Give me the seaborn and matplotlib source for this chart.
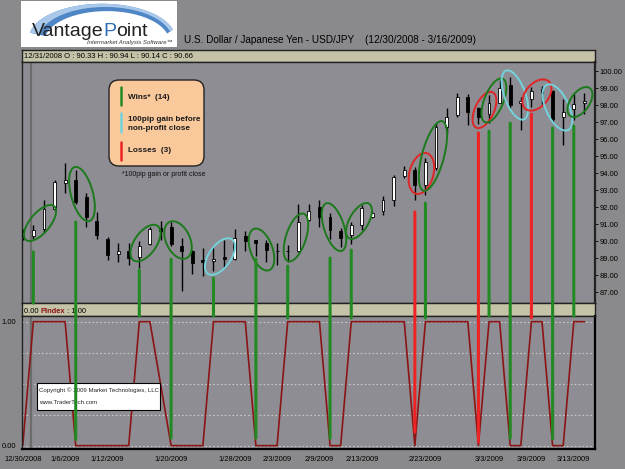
import numpy as np
import matplotlib
matplotlib.use("Agg")
import matplotlib.pyplot as plt
import matplotlib.transforms as mtransforms
from matplotlib.patches import Ellipse, FancyBboxPatch, Rectangle, ConnectionPatch, Polygon
import seaborn as sns

# ---------------- data ----------------
dates = ["12/30/2008", "12/31/2008", "1/2/2009", "1/5/2009", "1/6/2009", "1/7/2009", "1/8/2009",
         "1/9/2009", "1/12/2009", "1/13/2009", "1/14/2009", "1/15/2009", "1/16/2009", "1/19/2009",
         "1/20/2009", "1/21/2009", "1/22/2009", "1/23/2009", "1/26/2009", "1/27/2009", "1/28/2009",
         "1/29/2009", "1/30/2009", "2/2/2009", "2/3/2009", "2/4/2009", "2/5/2009", "2/6/2009",
         "2/9/2009", "2/10/2009", "2/11/2009", "2/12/2009", "2/13/2009", "2/16/2009", "2/17/2009",
         "2/18/2009", "2/19/2009", "2/20/2009", "2/23/2009", "2/24/2009", "2/25/2009", "2/26/2009",
         "2/27/2009", "3/2/2009", "3/3/2009", "3/4/2009", "3/5/2009", "3/6/2009", "3/9/2009",
         "3/10/2009", "3/11/2009", "3/12/2009", "3/13/2009", "3/16/2009"]
opens = [90.6, 90.33, 90.7, 91.9, 93.4, 93.6, 92.6, 91.2, 90.15, 89.25, 89.4, 89.05, 89.85, 90.76,
         90.85, 89.7, 89.45, 88.9, 88.82, 89.1, 88.95, 90.3, 90.05, 89.9, 89.45, 89.4, 89.4, 91.25,
         92.0, 91.4, 90.6, 90.35, 90.95, 91.4, 91.75, 92.4, 93.85, 94.2, 93.3, 94.3, 96.7, 97.4,
         98.5, 97.8, 97.45, 98.15, 99.2, 98.1, 98.35, 98.95, 98.8, 97.3, 97.75, 98.1]
highs = [90.7, 90.94, 92.4, 93.6, 94.6, 94.2, 92.85, 91.7, 90.25, 89.9, 89.9, 90.0, 90.85, 91.2,
         91.1, 90.2, 89.5, 89.6, 89.7, 90.1, 90.7, 90.6, 90.1, 90.05, 89.9, 89.8, 92.2, 92.2,
         92.4, 91.65, 90.75, 91.1, 92.1, 91.75, 92.65, 93.9, 94.4, 94.35, 94.9, 96.95, 97.8, 98.7,
         98.65, 97.9, 98.6, 99.5, 99.65, 98.5, 99.05, 99.1, 98.9, 98.35, 98.65, 98.7]
lows = [90.1, 90.14, 90.5, 91.8, 92.85, 92.2, 90.85, 90.15, 88.9, 88.75, 88.6, 88.4, 89.78, 90.1,
        89.7, 87.1, 88.05, 87.95, 88.25, 88.4, 88.9, 89.45, 89.15, 88.8, 88.6, 88.8, 89.35, 91.2,
        90.85, 90.15, 89.65, 89.85, 90.65, 91.35, 91.55, 92.05, 93.7, 92.45, 92.7, 94.2, 96.3, 97.3,
        96.85, 96.9, 96.95, 98.1, 97.8, 96.55, 97.9, 98.0, 97.0, 95.65, 97.1, 97.5]
closes = [90.3, 90.66, 91.9, 93.5, 93.6, 92.3, 91.45, 90.35, 89.2, 89.4, 89.0, 89.7, 90.7, 90.6,
          89.85, 89.4, 88.7, 88.75, 88.97, 88.95, 90.2, 90.0, 89.9, 89.5, 89.4, 89.45, 91.15, 91.8,
          91.45, 90.65, 90.2, 90.95, 91.95, 91.65, 92.4, 93.8, 94.2, 93.3, 94.65, 96.7, 97.3, 98.45,
          97.6, 97.3, 98.15, 99.0, 98.0, 98.25, 98.8, 98.7, 97.2, 97.6, 98.05, 98.25]
pindex = [0, 1, 1, 1, 1, 0, 0, 0, 0, 0, 0, 1, 1, 0.5, 0, 0, 0, 0, 1, 1, 1, 1, 0, 0, 0, 1, 1, 1,
          1, 0, 0, 1, 1, 1, 1, 1, 1, 0, 1, 1, 1, 1, 1, 0, 1, 1, 0, 0, 1, 1, 0, 0, 1, 1]

# trade signals: day index, top price, bottom (PIndex units), outcome
sig_day = [1, 5, 11, 14, 18, 22, 25, 29, 31, 37, 38, 43, 44, 46, 48, 50, 52]
sig_top = [89.37, 91.13, 88.31, 88.95, 87.84, 88.95, 88.54, 89.01, 89.48, 91.72, 92.24, 96.36,
           96.47, 96.94, 97.47, 96.65, 96.77]
sig_bot = [1.15, 0.05, 1.045, 0.06, 1.045, 0.06, 1.03, 0.06, 1.03, 0.11, 1.03, 0.03, 1.045,
           0.06, 1.03, 0.055, 1.045]
sig_kind = ["win", "win", "win", "win", "win", "win", "win", "win", "win", "loss", "win", "loss",
            "win", "win", "loss", "win", "win"]

# ellipse annotations: centre (day, price), kind
ell_day = [1.63, 5.59, 11.58, 14.65, 18.61, 22.53, 25.78, 29.37, 31.73, 37.62, 38.71, 43.57,
           44.46, 46.44, 48.52, 50.45, 52.58]
ell_price = [91.07, 92.77, 89.89, 90.07, 89.10, 89.51, 90.22, 90.83, 91.19, 93.98, 95.01, 97.71,
             98.27, 98.59, 98.59, 97.86, 98.18]
ell_kind = ["win", "win", "win", "win", "pip", "win", "win", "win", "win", "loss", "win", "loss",
            "win", "pip", "loss", "pip", "win"]
# ellipse shape in pixels (minor, major, angle)
ell_shape = [(20, 44, -40), (22, 56, 15), (22, 42, -35), (24, 40, 25), (22, 42, -35),
             (22, 44, 20), (20, 50, -18), (20, 50, 18), (19, 40, -30), (24, 42, -15),
             (22, 72, -15), (19, 39, -25), (19, 47, -22), (21, 52, 20), (23, 36, -40),
             (23, 50, 25), (19, 34, -35)]

xtick_labels = ["12/30/2008", "1/6/2009", "1/12/2009", "1/20/2009", "1/28/2009", "2/3/2009",
                "2/9/2009", "2/13/2009", "2/23/2009", "3/3/2009", "3/9/2009", "3/13/2009"]
price_ticks = list(range(87, 101))

# ---------------- style ----------------
sns.set_theme(style="white")
FONT = ["Liberation Sans", "DejaVu Sans"]
plt.rcParams["font.family"] = FONT

BG = "#8a8a8c"
PLOT_BG = "#8d8d93"
STRIP = "#c4c2a7"
DARKRED = "#8b1414"
COL_LINE = {"win": "#238a23", "loss": "#ec2424"}
COL_ELL = {"win": "#1c7a1c", "loss": "#e02626", "pip": "#74d2dc"}

W, H = 625, 469
fig = plt.figure(figsize=(W / 100, H / 100), dpi=100, facecolor=BG)


def fr(x0, y0, x1, y1):
    return [x0 / W, 1 - y1 / H, (x1 - x0) / W, (y1 - y0) / H]


pxT = mtransforms.Affine2D().scale(1 / W, 1 / H) + fig.transFigure  # pixel units, y up

days = np.arange(len(dates))
O = np.array(opens); Hh = np.array(highs); L = np.array(lows); C = np.array(closes)
XL = (-0.07, 54.0)

# ---- logo ----
axl = fig.add_axes(fr(21, 1, 177, 47))
axl.set_xlim(0, 1); axl.set_ylim(0, 1)
axl.set_facecolor("white")
axl.set_xticks([]); axl.set_yticks([])
for s in axl.spines.values():
    s.set_visible(False)
th = np.linspace(np.radians(170), np.radians(15), 60)
outer = np.c_[0.52 + 0.47 * np.cos(th), 0.18 + 0.76 * np.sin(th)]
th2 = th[::-1]
inner = np.c_[0.55 + 0.40 * np.cos(th2), 0.12 + 0.66 * np.sin(th2)]
axl.add_patch(Polygon(np.r_[outer, inner], closed=True, fc="#4f86c6", ec="none"))
inner2 = np.c_[0.54 + 0.43 * np.cos(th2), 0.15 + 0.72 * np.sin(th2)]
axl.add_patch(Polygon(np.r_[outer, inner2], closed=True, fc="#a9c8ea", ec="none"))
t1 = axl.text(0.07, 0.24, "Vantage", fontsize=14, color="#222222")
t2 = axl.annotate("P", xy=(1, 0), xycoords=t1, va="bottom", fontsize=14, color="#2f6db5")
axl.annotate("oint", xy=(1, 0), xycoords=t2, va="bottom", fontsize=14, color="#222222")
axl.text(0.97, 0.06, "Intermarket Analysis Software\u2122", fontsize=4.3, ha="right", style="italic",
         color="#333333")

fig.text(184 / W, 1 - 40 / H, "U.S. Dollar / Japanese Yen - USD/JPY    (12/30/2008 - 3/16/2009)",
         fontsize=7.2, va="center", color="black")

# ---- top strip ----
axs1 = fig.add_axes(fr(22, 50, 595, 62))
axs1.set_facecolor(STRIP)
axs1.set_xticks([]); axs1.set_yticks([])
axs1.text(0.003, 0.45, "12/31/2008 O : 90.33 H : 90.94 L : 90.14 C : 90.66", fontsize=5.5,
          va="center", color="black", transform=axs1.transAxes)

# ---- price panel ----
ax1 = fig.add_axes(fr(22, 62, 595, 303))
ax1.set_facecolor(PLOT_BG)
ax1.set_xlim(*XL)
ax1.set_ylim(86.37, 100.53)
ax1.axvline(0.78, color="#6c6c6c", lw=1.6, zorder=1)
ax1.vlines(days, L, Hh, color="black", lw=1.0, zorder=2)
up = C >= O
ax1.bar(days, np.maximum(np.abs(C - O), 0.05), bottom=np.minimum(O, C), width=0.27,
        color=np.where(up, "white", "black"), edgecolor="black", lw=0.6, zorder=3)
for d, p, k, (mn, mj, ang) in zip(ell_day, ell_price, ell_kind, ell_shape):
    tr = mtransforms.ScaledTranslation(d, p, ax1.transData)
    ax1.add_patch(Ellipse((0, 0), mn, mj, angle=ang, fill=False, ec=COL_ELL[k], lw=1.4,
                          transform=tr, clip_on=False, zorder=4))
ax1.yaxis.tick_right()
ax1.set_yticks(price_ticks)
ax1.set_yticklabels([f"{v:.2f}" for v in price_ticks])
ax1.tick_params(axis="y", length=2, width=0.6, pad=1.5, labelsize=5.4, colors="black")
ax1.set_xticks([])

# ---- PIndex strip ----
axs2 = fig.add_axes(fr(22, 303, 595, 316))
axs2.set_facecolor(STRIP)
axs2.set_xticks([]); axs2.set_yticks([])
a = axs2.text(0.003, 0.22, "0.00 ", fontsize=5.4, color="black", transform=axs2.transAxes)
b = axs2.annotate("PIndex", xy=(1, 0), xycoords=a, va="bottom", fontsize=5.4, color=DARKRED,
                  fontweight="bold")
axs2.annotate(" : 1.00", xy=(1, 0), xycoords=b, va="bottom", fontsize=5.4, color="black")

# ---- PIndex panel ----
ax2 = fig.add_axes(fr(22, 316, 595, 449))
ax2.set_facecolor(PLOT_BG)
ax2.set_xlim(*XL)
ax2.set_ylim(-0.027, 1.046)
for lv in [0, 0.25, 0.5, 0.75, 1.0]:
    ax2.axhline(lv, color="#c9c9c9", lw=0.8, ls=(0, (1.5, 2)), zorder=1)
ax2.axvline(0.78, color="#6c6c6c", lw=1.6, zorder=1)
sns.lineplot(x=days, y=pindex, ax=ax2, color=DARKRED, lw=1.2, zorder=2, legend=False)
ax2.set_yticks([0, 1])
ax2.set_yticklabels(["0.00", "1.00"])
ax2.set_xticks([dates.index(t) for t in xtick_labels])
ax2.set_xticklabels(xtick_labels)
ax2.set_xticks(days, minor=True)
ax2.tick_params(axis="x", which="both", length=2, width=0.6, pad=3, labelsize=5.4, colors="black")
ax2.tick_params(axis="y", length=3, width=0.6, pad=1, labelsize=5.4, colors="black")
ax2.set_xlabel(""); ax2.set_ylabel("")

for axx in (ax1, ax2, axs1, axs2):
    for s in axx.spines.values():
        s.set_color("#222222"); s.set_linewidth(1.0)
for s in ("right", "bottom"):
    ax2.spines[s].set_linewidth(1.6)
    ax2.spines[s].set_color("black")
ax1.spines["right"].set_linewidth(1.6)

# ---- copyright box ----
fig.add_artist(Rectangle((37, H - 410), 123, 27, transform=pxT, fc="white", ec="black", lw=0.8,
                         zorder=4))
fig.text(39 / W, 1 - 390.5 / H, "Copyright \u00a9 2009 Market Technologies, LLC", fontsize=4.45,
         va="center", zorder=4.5)
fig.text(39 / W, 1 - 402.5 / H, "www.TraderTech.com", fontsize=4.45, va="center", zorder=4.5)

# ---- signal lines across both panels ----
for d, tp, bt, k in zip(sig_day, sig_top, sig_bot, sig_kind):
    cp = ConnectionPatch(xyA=(d, tp), coordsA=ax1.transData, xyB=(d, bt), coordsB=ax2.transData,
                         color=COL_LINE[k], lw=2.2, zorder=5)
    fig.add_artist(cp)

# ---- legend box ----
fig.add_artist(FancyBboxPatch((109, H - 166), 95, 86, boxstyle="round,pad=0,rounding_size=10",
                              transform=pxT, fc="#f9c99c", ec="#222222", lw=1.0, zorder=6))
for (y0, y1), c in zip([(87, 105), (113, 132), (142, 160)], [COL_LINE["win"], COL_ELL["pip"], COL_LINE["loss"]]):
    fig.add_artist(plt.Line2D([121, 121], [H - y0, H - y1], transform=pxT, color=c, lw=1.8, zorder=7))
legfont = dict(fontsize=5.9, fontweight="bold", va="center", color="#1a1a1a", zorder=7)
fig.text(128 / W, 1 - 97.5 / H, "Wins*  (14)", **legfont)
fig.text(128 / W, 1 - 119.5 / H, "100pip gain before", **legfont)
fig.text(128 / W, 1 - 128 / H, "non-profit close", **legfont)
fig.text(128 / W, 1 - 151 / H, "Losses  (3)", **legfont)
fig.text(122 / W, 1 - 174.5 / H, "*100pip gain or profit close", fontsize=5.0, va="center",
         color="#111111", zorder=7)

fig.savefig("out.png", dpi=100, facecolor=BG)
